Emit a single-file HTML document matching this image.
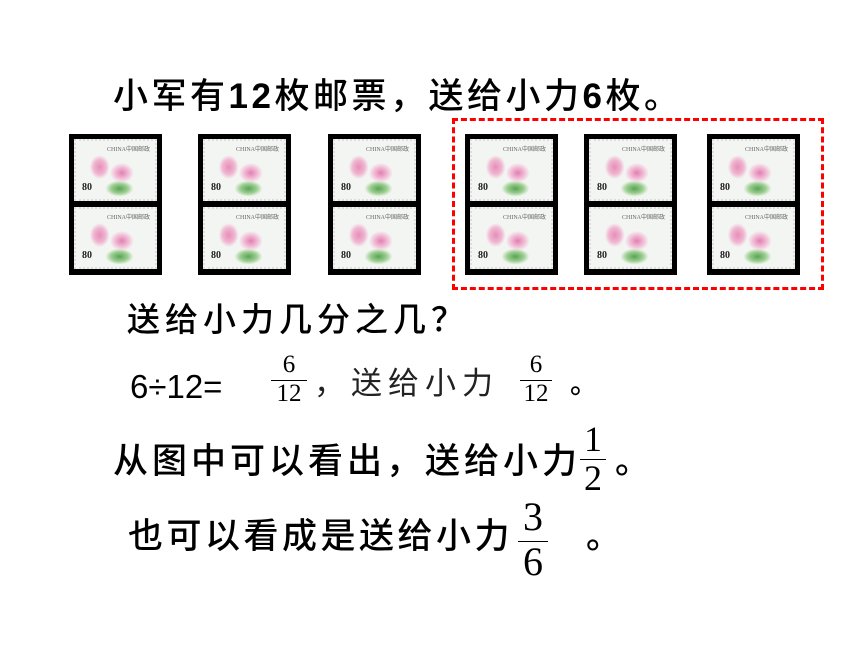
<!DOCTYPE html>
<html><head><meta charset="utf-8"><style>
body{margin:0;width:860px;height:645px;background:#fff;position:relative;overflow:hidden;font-family:"Liberation Sans","Noto Sans CJK SC",sans-serif;color:#000}
.t{position:absolute;white-space:nowrap;line-height:1;font-weight:500}
.blk{position:absolute;top:134px;width:93px;height:141px;background:#000}
.st{position:absolute;left:5px;width:83px;height:62px;background:
radial-gradient(ellipse 10px 12px at 30% 45%,#e58fb8 0,#f0b5d0 60%,transparent 100%),
radial-gradient(ellipse 12px 10px at 58% 55%,#e07fb0 0,#f3c0d8 60%,transparent 100%),
radial-gradient(ellipse 14px 8px at 55% 82%,#5aa25a 0,#9ccf8f 60%,transparent 100%),
#f3f5f3;border:2px dotted #ddd;box-sizing:border-box}
.st b{position:absolute;left:6px;bottom:6px;font:bold 10px "Liberation Serif",serif;color:#222}
.st i{position:absolute;right:5px;top:3px;font:6px "Liberation Serif",serif;color:#666;font-style:normal}
.fr{position:absolute;font-family:"Liberation Serif",serif;text-align:center;line-height:1}
.fr .bar{border-top:1.5px solid #000}
</style></head><body>
<div class="t" style="left:113px;top:79px;font-size:35px;letter-spacing:3.5px">小军有<b>12</b>枚邮票，送给小力<b>6</b>枚。</div>

<div style="position:absolute;left:452px;top:118px;width:366px;height:166px;border:3px dashed #f00"></div>

<div class="blk" style="left:69px"><div class="st" style="top:5px"><i>CHINA中国邮政</i><b>80</b></div><div class="st" style="top:73px"><i>CHINA中国邮政</i><b>80</b></div></div>
<div class="blk" style="left:198px"><div class="st" style="top:5px"><i>CHINA中国邮政</i><b>80</b></div><div class="st" style="top:73px"><i>CHINA中国邮政</i><b>80</b></div></div>
<div class="blk" style="left:328px"><div class="st" style="top:5px"><i>CHINA中国邮政</i><b>80</b></div><div class="st" style="top:73px"><i>CHINA中国邮政</i><b>80</b></div></div>
<div class="blk" style="left:465px"><div class="st" style="top:5px"><i>CHINA中国邮政</i><b>80</b></div><div class="st" style="top:73px"><i>CHINA中国邮政</i><b>80</b></div></div>
<div class="blk" style="left:584px"><div class="st" style="top:5px"><i>CHINA中国邮政</i><b>80</b></div><div class="st" style="top:73px"><i>CHINA中国邮政</i><b>80</b></div></div>
<div class="blk" style="left:707px"><div class="st" style="top:5px"><i>CHINA中国邮政</i><b>80</b></div><div class="st" style="top:73px"><i>CHINA中国邮政</i><b>80</b></div></div>

<div class="t" style="left:127px;top:303px;font-size:33px;letter-spacing:5px">送给小力几分之几？</div>

<div class="t" style="left:130px;top:370px;font-size:33px;font-weight:normal">6÷12=</div>
<div class="fr" style="left:271px;top:352px;width:36px;font-size:25px"><div>6</div><div class="bar" style="margin:3px 0 2px">12</div></div>
<div class="t" style="left:314px;top:368px;font-size:31px;letter-spacing:6px;color:#222;font-weight:normal">，送给小力</div>
<div class="fr" style="left:520px;top:352px;width:32px;font-size:25px"><div>6</div><div class="bar" style="margin:3px 0 2px">12</div></div>
<div class="t" style="left:570px;top:370px;font-size:28px">。</div>

<div class="t" style="left:113px;top:444px;font-size:35px;letter-spacing:4px">从图中可以看出，送给小力</div>
<div class="fr" style="left:580px;top:421px;width:26px;font-size:36px"><div style="padding-bottom:2px">1</div><div class="bar">2</div></div>
<div class="t" style="left:615px;top:444px;font-size:35px">。</div>

<div class="t" style="left:128px;top:519px;font-size:35px;letter-spacing:3.5px">也可以看成是送给小力</div>
<div class="fr" style="left:518px;top:497px;width:30px;font-size:40px"><div style="padding-bottom:4px">3</div><div class="bar">6</div></div>
<div class="t" style="left:586px;top:519px;font-size:35px">。</div>
</body></html>
